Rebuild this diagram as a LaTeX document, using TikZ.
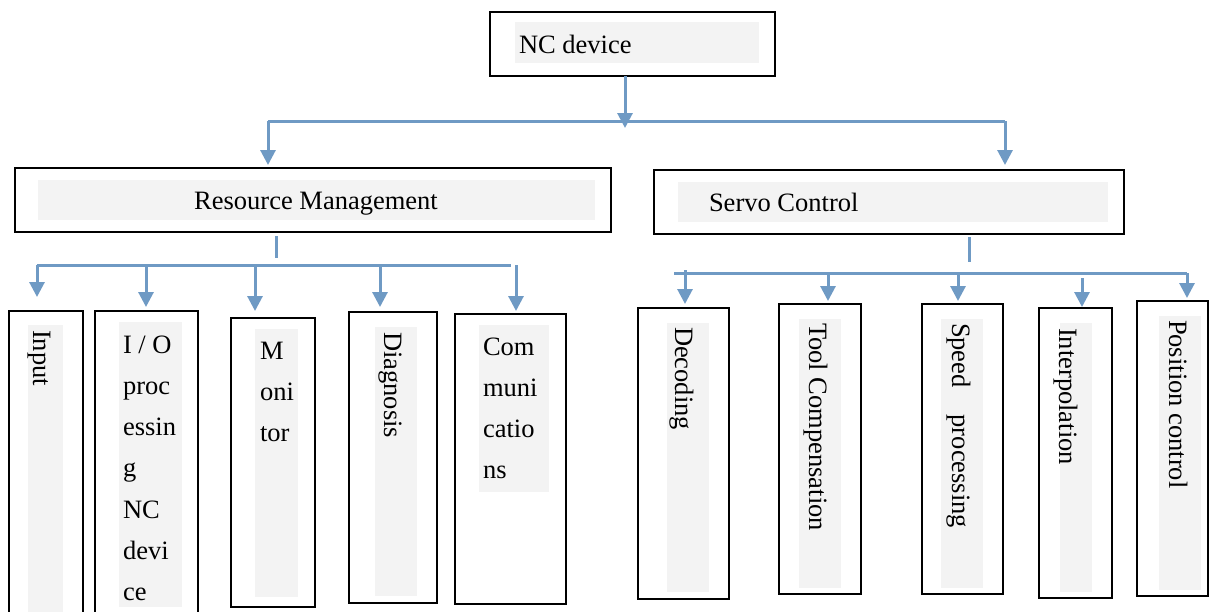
\documentclass[tikz,border=0pt]{standalone}
\usepackage{fontspec}
\setmainfont{Liberation Serif}
\usetikzlibrary{arrows.meta}
\definecolor{arr}{HTML}{6F9AC4}
\definecolor{bggray}{HTML}{F3F3F3}
\tikzset{
  box/.style={draw=black, line width=1.8pt, inner sep=0pt, outer sep=0pt, anchor=north west},
  graybg/.style={fill=bggray, draw=none},
  lbl/.style={font=\fontsize{26.5}{41.3}\selectfont, inner sep=0pt, outer sep=0pt, text=black},
  vlbl/.style={lbl, rotate=-90, anchor=base west},
  conn/.style={draw=arr, line width=3pt},
  arrowc/.style={conn, -{Triangle[length=15pt,width=15pt]}},
}
\newcommand\stackedtext[2]{\parbox[t]{#1}{\raggedright\fontsize{26.5}{41.3}\selectfont #2}}
\begin{document}
\begin{tikzpicture}[x=1pt,y=-1pt]
\clip (0,0) rectangle (1210,611);
% gray backgrounds
\path[graybg] (515,22) rectangle (759,63);
\path[graybg] (38,180) rectangle (595,220);
\path[graybg] (678,182) rectangle (1108,222);
\path[graybg] (28,325) rectangle (63,640);
\path[graybg] (119,322) rectangle (182,607);
\path[graybg] (255,329) rectangle (298,597);
\path[graybg] (375,327) rectangle (417,596);
\path[graybg] (479,325) rectangle (549,492);
\path[graybg] (667,323) rectangle (709,592);
\path[graybg] (799,319) rectangle (841,588);
\path[graybg] (941,319) rectangle (983,588);
\path[graybg] (1060,323) rectangle (1092,592);
\path[graybg] (1159,316) rectangle (1201,590);
% boxes
\node[box, minimum width=285pt, minimum height=64pt] (nc) at (490,12) {};
\node[box, minimum width=596pt, minimum height=64pt] (rm) at (15,168) {};
\node[box, minimum width=470pt, minimum height=64pt] (sc) at (654,170) {};
\node[box, minimum width=74pt, minimum height=329pt] (inp) at (9,311) {};
\node[box, minimum width=103pt, minimum height=329pt] (io) at (95,311) {};
\node[box, minimum width=84pt, minimum height=289pt] (mon) at (231,318) {};
\node[box, minimum width=88pt, minimum height=291pt] (dia) at (349,312) {};
\node[box, minimum width=111pt, minimum height=290pt] (com) at (455,314) {};
\node[box, minimum width=91pt, minimum height=291pt] (dec) at (638,308) {};
\node[box, minimum width=82pt, minimum height=290pt] (tool) at (779,304) {};
\node[box, minimum width=81pt, minimum height=290pt] (spd) at (922,304) {};
\node[box, minimum width=73pt, minimum height=290pt] (intp) at (1039,308) {};
\node[box, minimum width=71pt, minimum height=295pt] (pos) at (1137,301) {};
% texts
\node[lbl, anchor=base west] (tnc) at (519,53) {NC device};
\node[lbl, anchor=base] (trm) at (316,209) {Resource Management};
\node[lbl, anchor=base west] (tsc) at (709,211) {Servo Control};
\node[lbl, anchor=base west] (tio) at (123,353) {\stackedtext{70pt}{I / O\\proc\\essin\\g\\NC\\devi\\ce}};
\node[lbl, anchor=base west] (tmon) at (260,359) {\stackedtext{50pt}{M\\oni\\tor}};
\node[lbl, anchor=base west] (tcom) at (483,355) {\stackedtext{70pt}{Com\\muni\\catio\\ns}};
\node[vlbl] (tinp) at (33,330) {Input};
\node[vlbl] (tdia) at (384,332) {Diagnosis};
\node[vlbl] (tdec) at (675,327) {Decoding};
\node[vlbl] (ttool) at (809,323) {Tool Compensation};
\node[vlbl] (tspd) at (952,323) {Speed\hspace{27pt}processing};
\node[vlbl] (tintp) at (1059,328) {Interpolation};
\node[vlbl] (tpos) at (1169,320) {Position control};
% top connectors
\coordinate (tj) at (625,121);
\coordinate (tl) at (268,121);
\coordinate (tr) at (1005,121);
\draw[arrowc, shorten >=-7pt] (nc.south -| tj) -- (tj);
\draw[conn] (tl) -- (tr);
\draw[arrowc, shorten >=3pt] (tl) -- (tl |- rm.north);
\draw[arrowc, shorten >=5pt] (tr) -- (tr |- sc.north);
% left group
\coordinate (ls) at (276,265);
\coordinate (l0) at (37,265);
\coordinate (l1) at (146,265);
\coordinate (l2) at (255,265);
\coordinate (l3) at (380,265);
\coordinate (l4) at (511,265);
\coordinate (l5) at (516,265);
\draw[conn, shorten <=4pt, shorten >=7pt] (rm.south -| ls) -- (ls);
\draw[conn] (l0) -- (l4);
\draw[arrowc, shorten >=14pt] (l0) -- (l0 |- inp.north);
\draw[arrowc, shorten >=4pt] (l1) -- (l1 |- io.north);
\draw[arrowc, shorten >=7pt] (l2) -- (l2 |- mon.north);
\draw[arrowc, shorten >=5pt] (l3) -- (l3 |- dia.north);
\draw[arrowc, shorten >=3pt] (l5) -- (l5 |- com.north);
% right group
\coordinate (rs) at (969,273);
\coordinate (r0) at (674,273);
\coordinate (r6) at (1187,273);
\coordinate (r1) at (685,270);
\coordinate (r2) at (828,272);
\coordinate (r3) at (958,273);
\coordinate (r4) at (1082,278);
\coordinate (r5) at (1187,273);
\draw[conn, shorten <=3pt, shorten >=11pt] (sc.south -| rs) -- (rs);
\draw[conn] (r0) -- (r6);
\draw[arrowc, shorten >=4pt] (r1) -- (r1 |- dec.north);
\draw[arrowc, shorten >=3pt] (r2) -- (r2 |- tool.north);
\draw[arrowc, shorten >=3pt] (r3) -- (r3 |- spd.north);
\draw[arrowc, shorten >=1pt] (r4) -- (r4 |- intp.north);
\draw[arrowc, shorten >=3pt] (r5) -- (r5 |- pos.north);
\end{tikzpicture}
\end{document}
